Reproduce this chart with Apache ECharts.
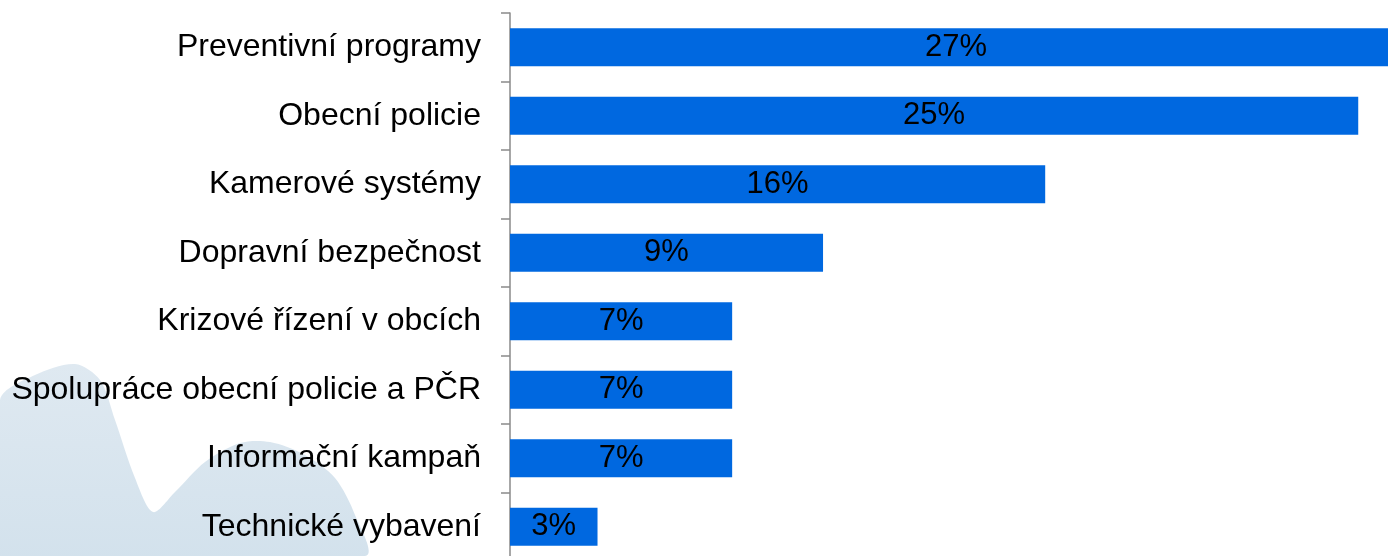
<!DOCTYPE html>
<html>
<head>
<meta charset="utf-8">
<script src="https://cdn.jsdelivr.net/npm/echarts@6/dist/echarts.min.js"></script>
<style>
html,body{margin:0;padding:0;background:#fff;}
#chart{width:1388px;height:556px;}
</style>
</head>
<body>
<div id="chart"></div>
<script>
var categories = [
  "Preventivní programy",
  "Obecní policie",
  "Kamerové systémy",
  "Dopravní bezpečnost",
  "Krizové řízení v obcích",
  "Spolupráce obecní policie a PČR",
  "Informační kampaň",
  "Technické vybavení"
];
var values = [26.5, 25.2, 15.9, 9.3, 6.6, 6.6, 6.6, 2.6];

var chart = echarts.init(document.getElementById('chart'), null, {renderer: 'canvas'});
var font = '"Liberation Sans", Arial, sans-serif';
chart.setOption({
  animation: false,
  backgroundColor: '#ffffff',
  graphic: [{
    type: 'polygon',
    z: -10,
    silent: true,
    shape: {
      smooth: 0.3,
      points: [[0,400],[35,375],[75,364],[100,380],[115,420],[135,478],[153,512],[175,492],[205,462],[240,443],[270,442],[305,455],[335,478],[355,515],[365,556],[0,556]]
    },
    style: {
      fill: new echarts.graphic.LinearGradient(0, 0, 0, 1, [
        {offset: 0, color: '#dfe9f1'},
        {offset: 1, color: '#d2e1ec'}
      ])
    }
  }],
  grid: {left: 510, width: 892, top: 13, height: 548, containLabel: false, outerBoundsMode: 'none'},
  xAxis: {
    type: 'value',
    min: 0,
    max: 'dataMax',
    show: false
  },
  yAxis: {
    type: 'category',
    data: categories,
    inverse: true,
    axisLine: {show: true, lineStyle: {color: '#8a8a8a', width: 1.5}},
    axisTick: {show: true, length: 9, lineStyle: {color: '#8a8a8a', width: 1.5}},
    axisLabel: {color: '#000', fontSize: 32, fontFamily: font, margin: 29},
    splitLine: {show: false}
  },
  series: [{
    type: 'bar',
    data: values,
    barWidth: 38,
    itemStyle: {color: '#0068e0'},
    label: {
      show: true,
      position: 'inside',
      color: '#000',
      fontSize: 31,
      fontFamily: font,
      formatter: function (p) { return Math.round(p.value) + '%'; }
    }
  }]
});
</script>
</body>
</html>
